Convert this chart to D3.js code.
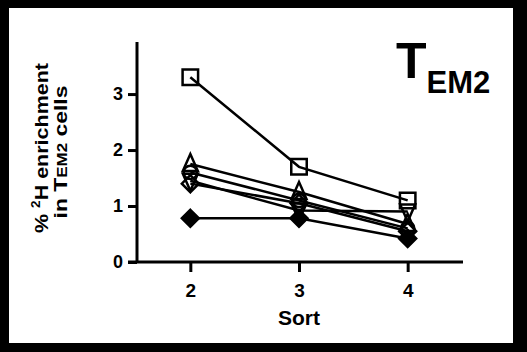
<!DOCTYPE html>
<html>
<head>
<meta charset="utf-8">
<script src="https://cdn.jsdelivr.net/npm/d3@7"></script>
<style>
  body { margin: 0; background: #000; }
  svg { display: block; }
  text { font-family: "Liberation Sans", Arial, sans-serif; font-weight: bold; fill: #000; }
</style>
</head>
<body>
<svg width="527" height="352"></svg>
<script>
var svg = d3.select("svg"),
    width = 527,
    height = 352;

// the data - one array per animal, values at each sort
var sorts = [2, 3, 4];
var squareOpen    = [3.3, 1.7, 1.1];
var triangleOpen  = [1.75, 1.25, 0.68];
var circleOpen    = [1.6, 1.1, 0.6];
var triangleDown  = [1.45, 0.92, 0.9];
var diamondOpen   = [1.4, 1.05, 0.55];
var diamondFilled = [0.78, 0.78, 0.42];
var yTicks = [0, 1, 2, 3];

var series = [
  {values: squareOpen,    shape: "square"},
  {values: triangleOpen,  shape: "triangle"},
  {values: circleOpen,    shape: "circle"},
  {values: triangleDown,  shape: "triangleDown"},
  {values: diamondOpen,   shape: "diamond"},
  {values: diamondFilled, shape: "diamondFilled"}
];

// white panel inside the black frame
svg.append("rect")
    .attr("x", 9).attr("y", 8)
    .attr("width", 504).attr("height", 335)
    .attr("fill", "#fff");

var x = d3.scaleLinear().domain([1.5, 4.5]).range([136, 462]);
var y = d3.scaleLinear().domain([0, 3.93]).range([262, 42]);

//////////// AXES ////////////

var yAxis = svg.append("g")
    .attr("transform", "translate(137,0)")
    .call(d3.axisLeft(y).tickValues(yTicks).tickFormat(d3.format("d"))
      .tickSize(9).tickSizeOuter(0).tickPadding(5));

var xAxis = svg.append("g")
    .attr("transform", "translate(0,262)")
    .call(d3.axisBottom(x).tickValues(sorts).tickFormat(d3.format("d"))
      .tickSize(10).tickSizeOuter(0).tickPadding(12));

// axes styling
svg.selectAll(".domain").attr("stroke", "#000").attr("stroke-width", 3);
svg.selectAll(".tick line").attr("stroke", "#000").attr("stroke-width", 3);
yAxis.selectAll(".tick text").style("font-size", "18px").attr("font-family", null);
xAxis.selectAll(".tick text").style("font-size", "19px").attr("font-family", null);
// x axis line reaches back to the y ticks
yAxis.select(".domain").attr("d", "M0," + y(3.93) + "V" + y(0));
xAxis.select(".domain").attr("d", "M128,0H463");

//////////// LINES + MARKERS ////////////

var line = d3.line()
    .x(function(d, i) { return x(sorts[i]); })
    .y(function(d) { return y(d); });

svg.append("g")
    .selectAll("path")
    .data(series)
    .enter().append("path")
    .attr("d", function(d) { return line(d.values); })
    .attr("fill", "none")
    .attr("stroke", "#000")
    .attr("stroke-width", 2.5);

function markerPath(shape) {
  if (shape == "square") return d3.symbol().type(d3.symbolSquare).size(240)();
  if (shape == "triangle" || shape == "triangleDown") return "M0,-10L7.5,7L-7.5,7Z";
  if (shape == "circle") return d3.symbol().type(d3.symbolCircle).size(140)();
  return "M0,-8.5L8.5,0L0,8.5L-8.5,0Z";
}

var markers = [];
series.forEach(function(s) {
  s.values.forEach(function(v, i) {
    markers.push({shape: s.shape, sort: sorts[i], value: v});
  });
});

svg.append("g")
    .selectAll("path")
    .data(markers)
    .enter().append("path")
    .attr("d", function(d) { return markerPath(d.shape); })
    .attr("transform", function(d) {
      var t = "translate(" + x(d.sort) + "," + y(d.value) + ")";
      if (d.shape == "triangleDown") t += " rotate(180)";
      return t;
    })
    .attr("fill", function(d) { return d.shape == "diamondFilled" ? "#000" : "none"; })
    .attr("stroke", "#000")
    .attr("stroke-width", 2.5);

//////////// TEXT ////////////

svg.append("text")
    .attr("x", x(3)).attr("y", 325)
    .attr("text-anchor", "middle")
    .style("font-size", "21px")
    .text("Sort");

var yTitle = svg.append("g")
    .attr("transform", "translate(0,148) rotate(-90)");

var t1 = yTitle.append("text")
    .attr("x", 0).attr("y", 48)
    .attr("text-anchor", "middle")
    .attr("textLength", 170)
    .attr("lengthAdjust", "spacingAndGlyphs")
    .style("font-size", "19px");
t1.append("tspan").text("% ");
t1.append("tspan").attr("dy", -8).style("font-size", "12px").text("2");
t1.append("tspan").attr("dy", 8).text("H enrichment");

var t2 = yTitle.append("text")
    .attr("x", -4).attr("y", 67)
    .attr("text-anchor", "middle")
    .attr("textLength", 133)
    .attr("lengthAdjust", "spacingAndGlyphs")
    .style("font-size", "19px");
t2.append("tspan").text("in T");
t2.append("tspan").style("font-size", "14px").text("EM2");
t2.append("tspan").text(" cells");

var title = svg.append("text")
    .attr("x", 396).attr("y", 78);
title.append("tspan").style("font-size", "50px").text("T");
title.append("tspan").attr("dy", 15).style("font-size", "31px").text("EM2");
</script>
</body>
</html>
